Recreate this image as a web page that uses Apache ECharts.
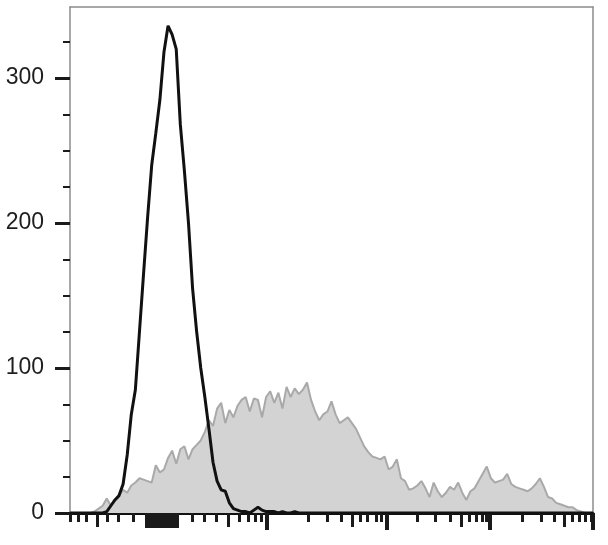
<!DOCTYPE html>
<html>
<head>
<meta charset="utf-8">
<script src="https://cdn.jsdelivr.net/npm/echarts@6/dist/echarts.min.js"></script>
<style>
html,body{margin:0;padding:0;background:#fff;}
#chart{width:608px;height:545px;}
</style>
</head>
<body>
<div id="chart"></div>
<script>
// channel positions (display channels 0..256)
const channels = [0,2,4,6,8,10,12,14,16,18,20,22,24,26,28,30,32,34,36,38,40,42,44,46,48,50,52,54,56,58,60,62,64,66,68,70,72,74,76,78,80,82,84,86,88,90,92,94,96,98,100,102,104,106,108,110,112,114,116,118,120,122,124,126,128,130,132,134,136,138,140,142,144,146,148,150,152,154,156,158,160,162,164,166,168,170,172,174,176,178,180,182,184,186,188,190,192,194,196,198,200,202,204,206,208,210,212,214,216,218,220,222,224,226,228,230,232,234,236,238,240,242,244,246,248,250,252,254,256];

// stained sample (gray filled)
const grayCounts = [0,0,0,0,0,0,1,3,5,10,5,9,12,16,14,19,21,24,23,22,21,33,28,30,38,43,34,44,46,37,44,47,50,56,64,60,72,76,62,71,66,74,78,80,70,79,78,66,80,84,76,83,72,87,80,86,82,85,90,78,70,64,68,70,77,68,62,64,66,62,58,52,46,42,39,38,37,39,30,32,37,24,22,16,17,19,22,17,11,21,15,11,14,18,16,21,14,9,15,17,22,27,32,24,21,22,23,27,20,18,17,16,15,17,20,24,18,11,10,7,6,5,4,4,2,1,0,0,0];

// isotype control (black line)
const blackCounts = [0,0,0,0,0,0,0,0,0,1,5,9,12,20,40,68,85,125,165,204,240,262,285,318,336,330,320,268,236,200,155,125,100,80,58,35,22,16,15,7,3,2,1,1,0,2,4,2,1,1,1,0,1,0,0,1,0,0,0,0,0,0,0,0,0,0,0,0,0,0,0,0,0,0,0,0,0,0,0,0,0,0,0,0,0,0,0,0,0,0,0,0,0,0,0,0,0,0,0,0,0,0,0,0,0,0,0,0,0,0,0,0,0,0,0,0,0,0,0,0,0,0,0,0,0,0,0,0,0];

// y axis ticks
const yMajorTicks = [0,100,200,300];
const yMinorTicks = [25,50,75,125,150,175,225,250,275,325];

// x axis (biexponential) ticks, in channel units
const xMajorTicks = [96.4,155.2,205.6,256];
const xMidTicks = [13.2,77.3,138,191.4,241.8];
const xMinorTicks = [0,3.9,7.8,18.1,23.5,30.8,59.7,65.6,71.5,82.7,87.1,90.6,93.5,116.5,125.8,132.6,141.9,145.4,149.8,152.2,169.9,178.7,186,195.3,198.7,201.7,203.6,221.2,230.5,236.9,245.7,249.1,252.1,255];
const xDenseTicks = [37.5,38.3,39.1,39.9,40.7,41.5,42.3,43.1,43.9,44.7,45.5,46.3,47.1,47.9,48.7,49.5,50.3,51.1,51.9,52.7];

const chart = echarts.init(document.getElementById('chart'), null, {renderer:'canvas'});
const X_MAX = 256, Y_MAX = 349;
const frameColor = '#8c8c8c';
function xAx(ticks, len, width, extra){
  return Object.assign({
    type:'value', min:0, max:X_MAX, position:'bottom', gridIndex:0,
    axisLine:{show:false},
    axisTick:{show:true, inside:false, length:len, customValues:ticks, lineStyle:{color:'#1a1a1a', width:width}},
    axisLabel:{show:false},
    splitLine:{show:false}
  }, extra||{});
}
const option = {
  animation:false,
  backgroundColor:'#ffffff',
  grid:{left:70, right:15, top:7, bottom:32, containLabel:false},
  xAxis:[
    xAx(xMinorTicks, 9, 3, {axisLine:{show:true, onZero:false, lineStyle:{color:'#111', width:3}}}),
    xAx(xMidTicks, 14, 3),
    xAx(xMajorTicks, 17, 4),
    xAx(xDenseTicks, 15, 3),
    {type:'value', min:0, max:X_MAX, position:'top', gridIndex:0,
     axisLine:{show:true, lineStyle:{color:frameColor, width:1.5}},
     axisTick:{show:false}, axisLabel:{show:false}, splitLine:{show:false}}
  ],
  yAxis:[
    {type:'value', min:0, max:Y_MAX, position:'left', gridIndex:0,
     axisLine:{show:true, onZero:false, lineStyle:{color:frameColor, width:1.5}},
     axisTick:{show:true, length:15, customValues:yMajorTicks, lineStyle:{color:'#1a1a1a', width:3}},
     axisLabel:{show:true, customValues:yMajorTicks, margin:26, color:'#1e1e1e',
       fontFamily:'"Liberation Sans", Arial, sans-serif', fontSize:23},
     splitLine:{show:false}},
    {type:'value', min:0, max:Y_MAX, position:'left', gridIndex:0,
     axisLine:{show:false},
     axisTick:{show:true, length:7, customValues:yMinorTicks, lineStyle:{color:'#1a1a1a', width:2}},
     axisLabel:{show:false}, splitLine:{show:false}},
    {type:'value', min:0, max:Y_MAX, position:'right', gridIndex:0,
     axisLine:{show:true, onZero:false, lineStyle:{color:frameColor, width:1.5}},
     axisTick:{show:false}, axisLabel:{show:false}, splitLine:{show:false}}
  ],
  series:[
    {type:'line', xAxisIndex:0, yAxisIndex:0, showSymbol:false, symbol:'none',
     data:channels.map((c,i)=>[c, grayCounts[i]]),
     lineStyle:{color:'#a9a9a9', width:2},
     areaStyle:{color:'#d3d3d3', opacity:1},
     z:2},
    {type:'line', xAxisIndex:0, yAxisIndex:0, showSymbol:false, symbol:'none',
     data:channels.map((c,i)=>[c, blackCounts[i]]),
     lineStyle:{color:'#111111', width:3},
     z:3}
  ]
};
chart.setOption(option);
</script>
</body>
</html>
